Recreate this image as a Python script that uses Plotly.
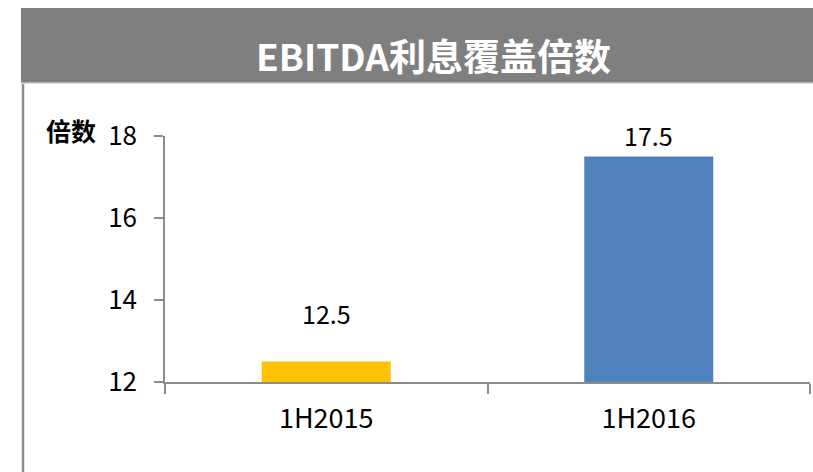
import plotly.graph_objects as go

# Chart data
categories = ["1H2015", "1H2016"]
values = [12.5, 17.5]
value_labels = ["12.5", "17.5"]
bar_colors = ["#FFC000", "#4F81BD"]
label_offsets = [49, 22]  # vertical gap (px) between bar top and label centre
y_ticks = [12, 14, 16, 18]

title_text = "EBITDA利息覆盖倍数"
y_title = "倍数"

W, H = 813, 472
L, R, T, B = 165, 3, 136, 90
plot_w = W - L - R
plot_h = H - T - B

FONT = "Noto Sans CJK SC, Microsoft YaHei, sans-serif"


def px_x(p):
    return (p - L) / plot_w


def px_y(p):
    return (H - B - p) / plot_h


fig = go.Figure(
    go.Bar(
        x=categories,
        y=values,
        marker=dict(color=bar_colors, line=dict(width=0)),
        width=0.4,
        hoverinfo="skip",
    )
)

for cat, val, lab, off in zip(categories, values, value_labels, label_offsets):
    fig.add_annotation(
        x=cat, y=val, text=lab, showarrow=False,
        yanchor="middle", yshift=off,
        font=dict(family=FONT, size=25, color="#000000"),
    )

# Header band with title
fig.add_shape(
    type="rect", xref="paper", yref="paper",
    x0=px_x(21), x1=px_x(830), y0=px_y(83), y1=px_y(8),
    fillcolor="#7F7F7F", line=dict(width=0), layer="below",
)
fig.add_shape(
    type="line", xref="paper", yref="paper",
    x0=px_x(21), x1=px_x(830), y0=px_y(83), y1=px_y(83),
    line=dict(color="#C8C8C8", width=1.5),
)
fig.add_annotation(
    xref="paper", yref="paper", x=px_x(433), y=px_y(55),
    text="<b>" + title_text + "</b>", showarrow=False,
    xanchor="center", yanchor="middle",
    font=dict(family=FONT, size=37, color="#FFFFFF"),
)

# Left border of the panel
fig.add_shape(
    type="line", xref="paper", yref="paper",
    x0=px_x(23), x1=px_x(23), y0=px_y(84), y1=px_y(480),
    line=dict(color="#8C8C8C", width=2.5),
)

# Axis unit label
fig.add_annotation(
    xref="paper", yref="paper", x=px_x(98), y=px_y(130),
    text="<b>" + y_title + "</b>", showarrow=False,
    xanchor="right", yanchor="middle",
    font=dict(family=FONT, size=25, color="#000000"),
)

# Short extension of the x axis left of the y axis
fig.add_shape(
    type="line", xref="paper", yref="paper",
    x0=px_x(156), x1=px_x(165), y0=0, y1=0,
    line=dict(color="#8C8C8C", width=1.5),
)

fig.update_layout(
    width=W, height=H,
    margin=dict(l=L, r=R, t=T, b=B, pad=0),
    paper_bgcolor="#FFFFFF", plot_bgcolor="#FFFFFF",
    showlegend=False,
    bargap=0.6,
    xaxis=dict(
        type="category",
        showline=True, linecolor="#8C8C8C", linewidth=1.5,
        ticks="outside", tickson="boundaries", ticklen=10,
        tickcolor="#8C8C8C", tickwidth=1.5,
        showgrid=False, zeroline=False,
        tickfont=dict(family=FONT, size=27, color="#000000"),
        ticklabelstandoff=12,
    ),
    yaxis=dict(
        range=[12, 18],
        tickvals=y_ticks,
        showline=True, linecolor="#8C8C8C", linewidth=1.5,
        ticks="outside", ticklen=9,
        tickcolor="#8C8C8C", tickwidth=1.5,
        showgrid=False, zeroline=False,
        tickfont=dict(family=FONT, size=26, color="#000000"),
        ticklabelstandoff=12,
    ),
)

fig.write_html("out.html")
